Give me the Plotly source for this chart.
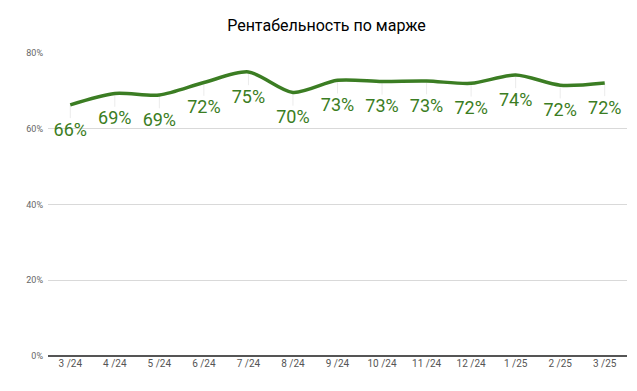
import plotly.graph_objects as go

months = ["3 /24", "4 /24", "5 /24", "6 /24", "7 /24", "8 /24", "9 /24",
          "10 /24", "11 /24", "12 /24", "1 /25", "2 /25", "3 /25"]
margin_pct = [66.3, 69.3, 68.9, 72.2, 75.0, 69.6, 72.8, 72.5, 72.6, 72.0, 74.2, 71.5, 72.1]
labels = ["66%", "69%", "69%", "72%", "75%", "70%", "73%", "73%", "73%", "72%", "74%", "72%", "72%"]

green = "#3b7d23"

fig = go.Figure()
fig.add_trace(go.Scatter(
    x=months, y=margin_pct, mode="lines+markers+text",
    line=dict(color=green, width=3.5, shape="spline", smoothing=0.8),
    marker=dict(size=26, color="rgba(0,0,0,0)"),
    error_y=dict(type="constant", value=0, valueminus=3.5, symmetric=False,
                 color="#ebebeb", thickness=1, width=0),
    text=labels, textposition="bottom center",
    textfont=dict(family="Roboto", size=18, color=green),
    hoverinfo="skip", showlegend=False,
))

fig.update_layout(
    width=637, height=391,
    margin=dict(l=40, r=18, t=45, b=43),
    paper_bgcolor="white", plot_bgcolor="white",
    title=dict(text="Рентабельность по марже", x=0.5, xanchor="center",
               y=0.955, yanchor="middle",
               font=dict(family="Roboto", size=16, color="#000000")),
    font=dict(family="Roboto"),
)
fig.update_xaxes(
    type="category", range=[-0.5, 12.5], showgrid=False,
    showline=False, ticks="",
    tickfont=dict(family="Roboto", size=10, color="#555555"),
)
fig.update_yaxes(
    range=[0, 80], tickvals=[0, 20, 40, 60, 80],
    ticktext=["0%", "20%", "40%", "60%", "80%"],
    showgrid=True, gridcolor="#d9d9d9", gridwidth=1,
    zeroline=True, zerolinecolor="#555555", zerolinewidth=1.5,
    ticks="", ticklabelstandoff=4,
    tickfont=dict(family="Roboto", size=9, color="#666666"),
)

fig.write_html("out.html")
